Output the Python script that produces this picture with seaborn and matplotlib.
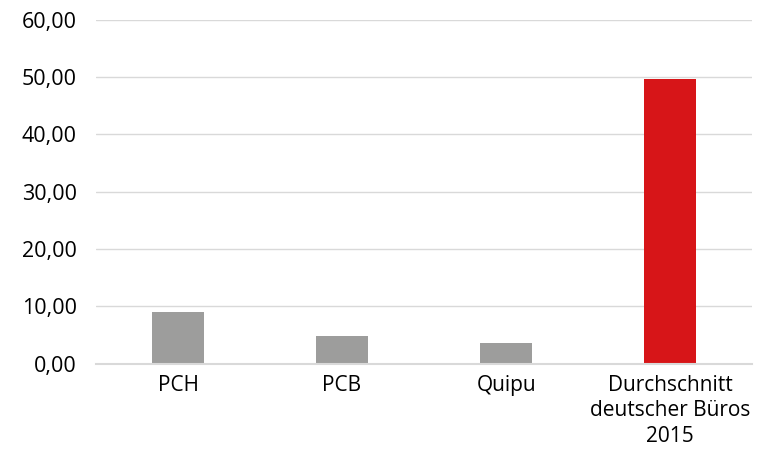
import matplotlib
matplotlib.use("Agg")
import matplotlib.pyplot as plt
import seaborn as sns
import pandas as pd

categories = ["PCH", "PCB", "Quipu", "Durchschnitt\ndeutscher Büros\n2015"]
values = [9.05, 4.85, 3.6, 49.7]
colors = ["#9d9d9c", "#9d9d9c", "#9d9d9c", "#d71518"]
yticks = [0, 10, 20, 30, 40, 50, 60]

sns.set_theme(style="white")
plt.rcParams['font.family'] = ['Open Sans', 'DejaVu Sans']

df = pd.DataFrame({"cat": categories, "val": values})

fig = plt.figure(figsize=(7.62, 4.51), dpi=100)
ax = fig.add_axes([0.126, 0.194, 0.861, 0.762])
sns.barplot(data=df, x="cat", y="val", hue="cat", palette=colors, width=0.32,
            legend=False, ax=ax, saturation=1, edgecolor="none", zorder=3)
ax.set_ylim(0, 60)
ax.set_xlim(-0.5, 3.5)
ax.set_yticks(yticks)
ax.set_yticklabels([f"{v:.2f}".replace(".", ",") for v in yticks], fontsize=15.5)
ax.tick_params(axis="x", labelsize=15, length=0, pad=8, labelcolor="black")
ax.tick_params(axis="y", length=0, pad=14, labelcolor="black")
ax.set_xlabel("")
ax.set_ylabel("")
ax.grid(axis="y", color="#d9d9d9", linewidth=1, zorder=0)
for s in ["top", "right", "left"]:
    ax.spines[s].set_visible(False)
ax.spines["bottom"].set_color("#d9d9d9")
ax.spines["bottom"].set_linewidth(1.5)
ax.spines["bottom"].set_zorder(4)
for lbl in ax.get_xticklabels():
    lbl.set_linespacing(1.3)
fig.savefig("out.png", dpi=100)
